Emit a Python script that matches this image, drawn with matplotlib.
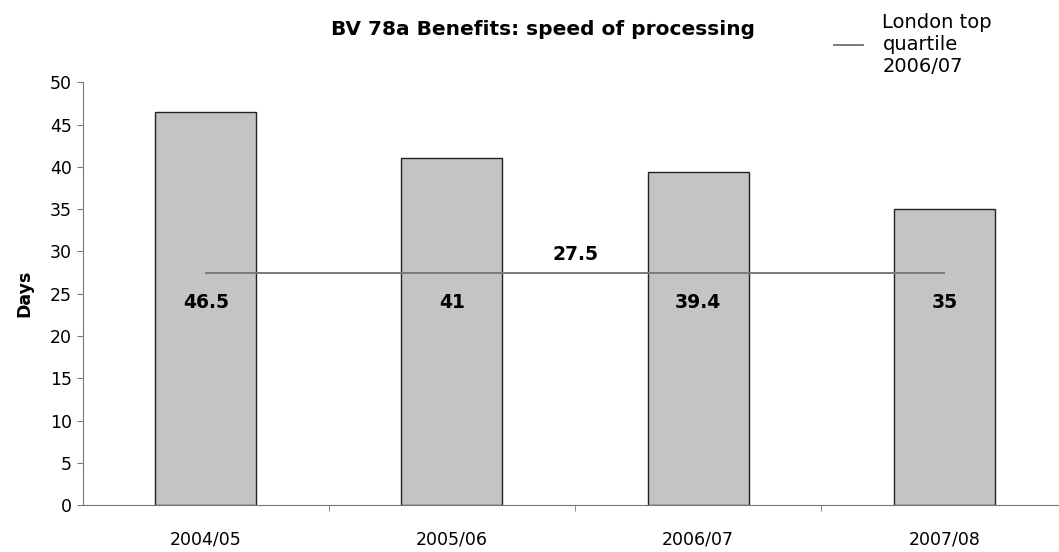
import numpy as np
import matplotlib.pyplot as plt

YEARS = ['2004/05', '2005/06', '2006/07', '2007/08']
DAYS = [46.5, 41, 39.4, 35]
TOP_QUARTILE = 27.5


def main():
    plt.rcParams['font.family'] = ['DejaVu Sans']
    fig = plt.figure(figsize=(10.59, 5.52), dpi=100)
    ax = fig.add_axes([0.078, 0.085, 0.93, 0.766])
    x = np.arange(len(YEARS))

    ax.bar(x, DAYS, width=0.41, color='#c4c4c4', edgecolor='#222222', linewidth=1.0, zorder=2)
    ax.plot(x, [TOP_QUARTILE] * len(x), color='#7a7a7a', linewidth=1.4, zorder=3,
            label='London top\nquartile\n2006/07')

    for xi, d in zip(x, DAYS):
        ax.text(xi, 24, f'{d:g}', ha='center', va='center', fontsize=13.5, fontweight='bold', zorder=4)
    ax.text(1.5, TOP_QUARTILE + 1.0, f'{TOP_QUARTILE:g}', ha='center', va='bottom',
            fontsize=13.5, fontweight='bold')

    ax.set_xlim(-0.5, 3.5)
    ax.set_ylim(0, 50)
    ax.set_yticks(range(0, 51, 5))
    ax.set_xticks(x)
    ax.set_xticklabels(YEARS, fontsize=12.5)
    ax.set_xticks(np.arange(0.5, 3, 1), minor=True)
    ax.tick_params(axis='x', which='major', length=0, pad=18)
    ax.tick_params(axis='x', which='minor', length=4, color='#777777')
    ax.tick_params(axis='y', labelsize=12.5, length=4, color='#777777')
    for side in ['top', 'right']:
        ax.spines[side].set_visible(False)
    for side in ['left', 'bottom']:
        ax.spines[side].set_color('#777777')
    ax.set_ylabel('Days', fontsize=12.5, fontweight='bold', labelpad=12)

    fig.text(0.513, 0.946, 'BV 78a Benefits: speed of processing', ha='center', va='center',
             fontsize=14.5, fontweight='bold')
    ax.legend(loc='upper left', bbox_to_anchor=(0.745, 1.205), frameon=False, fontsize=14,
              handlelength=1.5, handletextpad=1.0, labelspacing=0.15)

    plt.savefig('out.png')


if __name__ == '__main__':
    main()
